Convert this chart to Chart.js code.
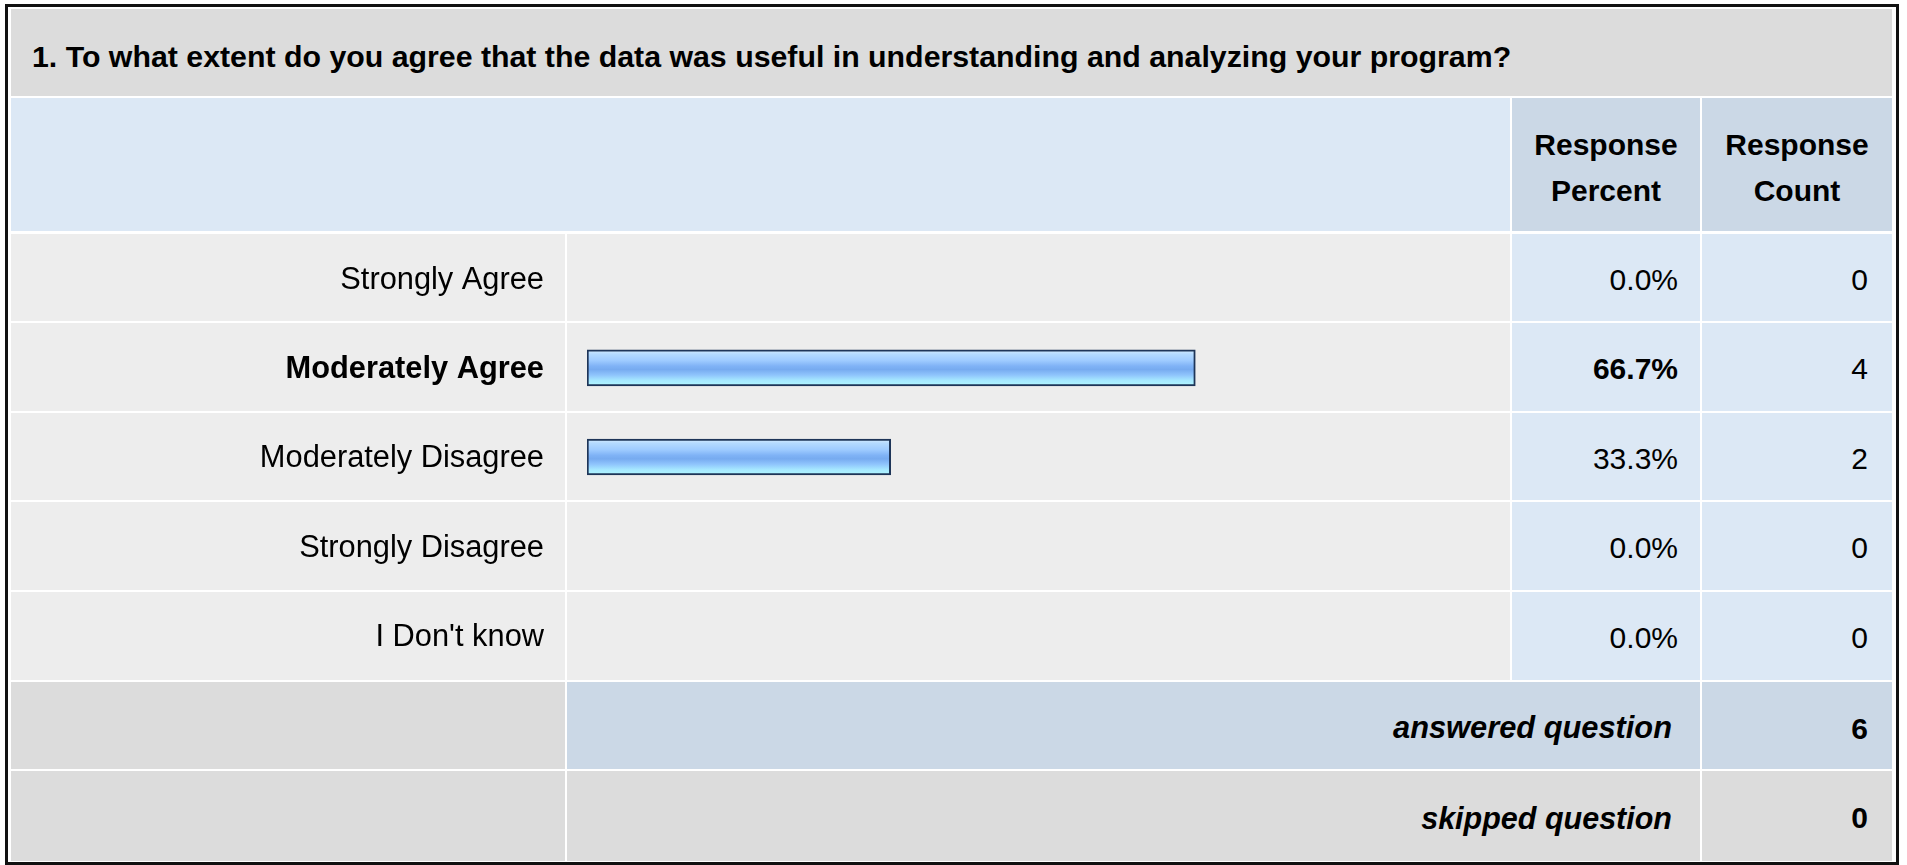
<!DOCTYPE html>
<html>
<head>
<meta charset="utf-8">
<script src="https://cdn.jsdelivr.net/npm/chart.js@4.4.1/dist/chart.umd.min.js"></script>
<style>
  html, body { margin: 0; padding: 0; background: #fff; }
  body { width: 1907px; height: 865px; position: relative; overflow: hidden;
         font-family: "Liberation Sans", Arial, Helvetica, sans-serif; color: #000; }
  #frame { position: absolute; left: 5px; top: 4px; width: 1894px; height: 861px;
           border: 3px solid #111; box-sizing: border-box; background: #fff; }
  .cell { position: absolute; box-sizing: border-box; display: flex; align-items: center;
          font-size: 30px; line-height: 1; }
  .grey { background: #dcdcdc; }
  .light { background: #ededed; }
  .blue { background: #dce8f5; }
  .blue2 { background: #cbd8e6; }
  .right { justify-content: flex-end; }
  .center { justify-content: center; text-align: center; }
  #chartWrap { position: absolute; left: 0; top: 0; width: 1907px; height: 865px; }
</style>
</head>
<body>
<div id="frame"></div>
<div id="table"></div>
<div id="chartWrap"><canvas id="c" width="1907" height="865"></canvas></div>
<script>
// ---- data ----
const questionTitle = "1. To what extent do you agree that the data was useful in understanding and analyzing your program?";
const categories = ["Strongly Agree", "Moderately Agree", "Moderately Disagree", "Strongly Disagree", "I Don't know"];
const responsePercent = [0.0, 66.7, 33.3, 0.0, 0.0];
const responseCount = [0, 4, 2, 0, 0];
const headerLabels = ["Response Percent", "Response Count"];
const answeredQuestion = 6;
const skippedQuestion = 0;

// ---- table layout (HTML cells) ----
const colX = [[11, 565], [567, 1510], [1512, 1700], [1702, 1892]];
const rowTops = [234, 323, 413, 502, 592, 682, 771];
const rowBots = [321, 411, 500, 590, 680, 769, 861];
const maxIdx = responsePercent.indexOf(Math.max(...responsePercent));
const table = document.getElementById('table');

function cell(x0, x1, y0, y1, cls, html, style) {
  const d = document.createElement('div');
  d.className = 'cell ' + cls;
  d.style.left = x0 + 'px'; d.style.top = y0 + 'px';
  d.style.width = (x1 - x0) + 'px'; d.style.height = (y1 - y0) + 'px';
  if (style) Object.assign(d.style, style);
  d.innerHTML = html || '';
  table.appendChild(d);
  return d;
}

// title
cell(11, 1892, 9, 96, 'grey', '<b>' + questionTitle + '</b>', { paddingLeft: '21px', paddingTop: '9px', fontSize: '30.3px' });
// header
cell(11, 1510, 98, 231, 'blue', '');
const hp = headerLabels[0].split(' ');
const hc = headerLabels[1].split(' ');
cell(colX[2][0], colX[2][1], 98, 231, 'blue2 center', '<b>' + hp[0] + '<br>' + hp[1] + '</b>', { lineHeight: '46px', paddingTop: '6px' });
cell(colX[3][0], colX[3][1], 98, 231, 'blue2 center', '<b>' + hc[0] + '<br>' + hc[1] + '</b>', { lineHeight: '46px', paddingTop: '6px' });
// body rows
categories.forEach((c, i) => {
  const y0 = rowTops[i], y1 = rowBots[i];
  const bold = i === maxIdx;
  cell(colX[0][0], colX[0][1], y0, y1, 'light', '');
  cell(colX[1][0], colX[1][1], y0, y1, 'light', '');
  const pct = responsePercent[i].toFixed(1) + '%';
  cell(colX[2][0], colX[2][1], y0, y1, 'blue right', bold ? '<b>' + pct + '</b>' : pct, { paddingRight: '22px', paddingTop: '4px' });
  cell(colX[3][0], colX[3][1], y0, y1, 'blue right', String(responseCount[i]), { paddingRight: '24px', paddingTop: '4px' });
});
// footer rows
cell(colX[0][0], colX[0][1], rowTops[5], rowBots[5], 'grey', '');
cell(colX[1][0], colX[2][1], rowTops[5], rowBots[5], 'blue2 right', '<b><i>answered question</i></b>', { paddingRight: '28px', paddingTop: '6px', fontSize: '30.8px' });
cell(colX[3][0], colX[3][1], rowTops[5], rowBots[5], 'blue2 right', '<b>' + answeredQuestion + '</b>', { paddingRight: '24px', paddingTop: '6px' });
cell(colX[0][0], colX[0][1], rowTops[6], rowBots[6], 'grey', '');
cell(colX[1][0], colX[2][1], rowTops[6], rowBots[6], 'grey right', '<b><i>skipped question</i></b>', { paddingRight: '28px', paddingTop: '4px', fontSize: '30.5px' });
cell(colX[3][0], colX[3][1], rowTops[6], rowBots[6], 'grey right', '<b>' + skippedQuestion + '</b>', { paddingRight: '24px', paddingTop: '4px' });

// ---- chart ----
const BAR_T = 36;
function barGradient(context) {
  const chart = context.chart;
  const ca = chart.chartArea;
  if (responsePercent[context.dataIndex] <= 0) return 'rgba(0,0,0,0)';
  if (!ca) return '#8fc0f5';
  const yc = chart.scales.y.getPixelForValue(context.dataIndex);
  const g = chart.ctx.createLinearGradient(0, yc - BAR_T / 2, 0, yc + BAR_T / 2);
  g.addColorStop(0.00, '#d8eeff');
  g.addColorStop(0.12, '#b4daff');
  g.addColorStop(0.30, '#9ecbff');
  g.addColorStop(0.45, '#80b3f6');
  g.addColorStop(0.55, '#77abf0');
  g.addColorStop(0.70, '#8fc4fc');
  g.addColorStop(0.85, '#a6e8ff');
  g.addColorStop(1.00, '#b2f8ff');
  return g;
}

new Chart(document.getElementById('c'), {
  type: 'bar',
  data: {
    labels: categories,
    datasets: [{
      data: responsePercent,
      backgroundColor: barGradient,
      borderColor: (ctx) => (responsePercent[ctx.dataIndex] > 0 ? '#1e3558' : 'rgba(0,0,0,0)'),
      borderWidth: (ctx) => (responsePercent[ctx.dataIndex] > 0 ? 2 : 0),
      borderSkipped: false,
      barThickness: BAR_T
    }]
  },
  options: {
    indexAxis: 'y',
    responsive: false,
    devicePixelRatio: 1,
    animation: false,
    layout: { padding: { top: 234, bottom: 185, left: 0, right: 408 } },
    plugins: { legend: { display: false }, tooltip: { enabled: false } },
    scales: {
      x: { min: 0, max: 100, display: false },
      y: {
        type: 'category',
        grid: { display: false, drawTicks: false },
        border: { display: false },
        ticks: {
          padding: 43,
          labelOffset: 2,
          color: '#000',
          font: (ctx) => ({ family: '"Liberation Sans", Arial, sans-serif', size: 30.8,
                            weight: ctx.index === maxIdx ? 'bold' : 'normal' })
        },
        afterFit: (scale) => { scale.width = 587; }
      }
    }
  }
});
</script>
</body>
</html>
